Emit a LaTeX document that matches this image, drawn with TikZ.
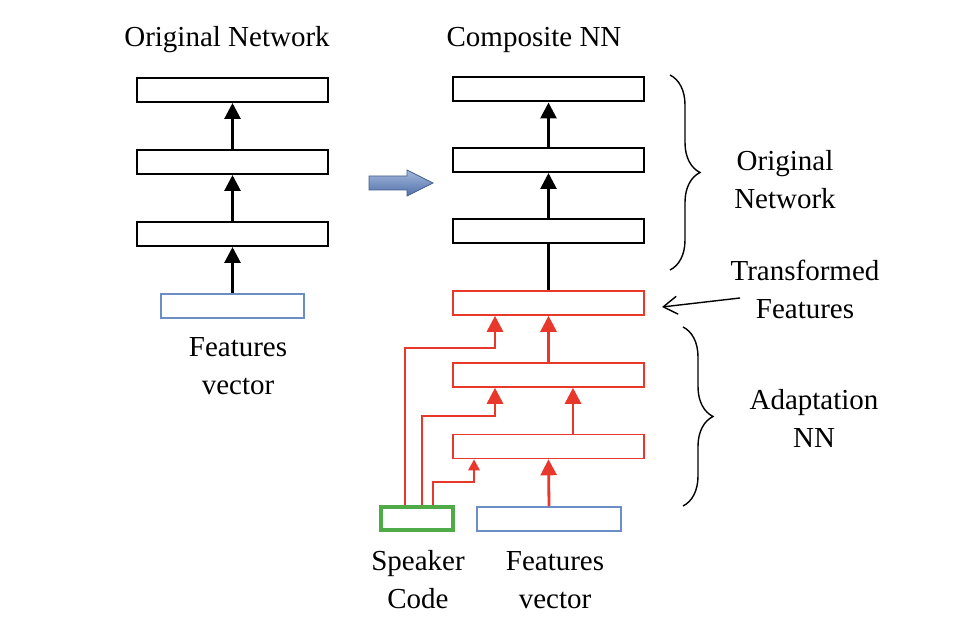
\documentclass[tikz,border=0pt]{standalone}
\usepackage{fontspec}
\setmainfont{Liberation Serif}
\usetikzlibrary{arrows.meta,decorations.pathreplacing}
\definecolor{nnred}{HTML}{E8372B}
\definecolor{nngreen}{HTML}{4FAA48}
\definecolor{nnblue}{HTML}{6C8EC6}
\definecolor{arrblue}{HTML}{5A7EBE}
\begin{document}
\begin{tikzpicture}[x=1pt,y=-1pt,
  lbl/.style={font=\fontsize{29}{38}\selectfont, align=center, inner sep=0},
  box/.style={inner sep=0, minimum width=191pt, minimum height=24pt},
  blk/.style={draw=black, line width=2pt},
  redbox/.style={draw=nnred, line width=1.6pt},
  bluebox/.style={draw=nnblue, line width=1.6pt},
  greenbox/.style={draw=nngreen, line width=3.2pt},
  upk/.style={line width=2.8pt, -{Triangle[width=16pt,length=16pt]}},
  upr/.style={line width=2.8pt, draw=nnred, -{Triangle[width=16pt,length=16pt]}, nnred},
  ups/.style={line width=2.8pt, draw=nnred, -{Triangle[width=11pt,length=11pt]}, nnred},
  brc/.style={decorate, decoration={brace, amplitude=30pt}, line width=1.4pt}]
\useasboundingbox (0,0) rectangle (978,644);
% left network
\node[lbl] (t1) at (227,40) {Original Network};
\node[box, blk] (l1) at (232.5,90) {};
\node[box, blk] (l2) at (232.5,162) {};
\node[box, blk] (l3) at (232.5,234) {};
\node[inner sep=0, minimum width=143pt, minimum height=24pt, bluebox] (lf) at (232.5,306) {};
\node[lbl] (lft) at (238,366) {Features\\vector};
\draw[upk] (lf.north) -- (l3.south);
\draw[upk] (l3.north) -- (l2.south);
\draw[upk] (l2.north) -- (l1.south);
% blue block arrow
\path[draw=arrblue!75!black, line width=0.8pt, top color=arrblue!55!white, bottom color=arrblue!90!black]
  (369,176) -- (407,176) -- (407,170) -- (433,183) -- (407,196) -- (407,190) -- (369,190) -- cycle;
% right network
\node[lbl] (t2) at (534,40) {Composite NN};
\node[box, blk] (r1) at (548.5,89.5) {};
\node[box, blk] (r2) at (548.5,160) {};
\node[box, blk] (r3) at (548.5,231) {};
\node[box, redbox] (a1) at (548.5,303) {};
\node[box, redbox] (a2) at (548.5,375) {};
\node[box, redbox] (a3) at (548.5,446.5) {};
\node[inner sep=0, minimum width=144pt, minimum height=24pt, bluebox] (rf) at (549,519) {};
\node[inner sep=0, minimum width=72pt, minimum height=23pt, greenbox] (sc) at (417,518.5) {};
\draw[upk] (r3.north) -- (r2.south);
\draw[upk] (r2.north) -- (r1.south);
\draw[line width=2.8pt] (a1.north) -- (r3.south);
\draw[upr] (rf.north) -- (a3.south);
\draw[upr] (a3.north -| 573,0) -- (a2.south -| 573,0);
\draw[upr] (a2.north) -- (a1.south);
\draw[upr] (sc.north -| 405,0) |- (495,348) -- (a1.south -| 495,0);
\draw[upr] (sc.north -| 422,0) |- (495,416) -- (a2.south -| 495,0);
\draw[ups] (sc.north -| 433,0) |- (474,482) -- (a3.south -| 474,0);
\node[lbl] (sct) at (418,580) {Speaker\\Code};
\node[lbl] (rft) at (555,580) {Features\\vector};
% braces
\coordinate (b1t) at (670,75); \coordinate (b1b) at (670,270);
\draw[brc] (b1t) -- (b1b);
\node[lbl] (on) at (785,180) {Original\\Network};
\coordinate (b2t) at (683,327); \coordinate (b2b) at (683,506);
\draw[brc] (b2t) -- (b2b);
\node[lbl] (ad) at (814,418) {Adaptation\\NN};
\node[lbl] (tf) at (805,289) {Transformed\\Features};
\coordinate (tfa) at (740,298);
\coordinate (tfb) at (662,307);
\draw[line width=1.4pt, -{Straight Barb[length=14pt,width=18pt]}] (tfa) -- (tfb);
\end{tikzpicture}
\end{document}
